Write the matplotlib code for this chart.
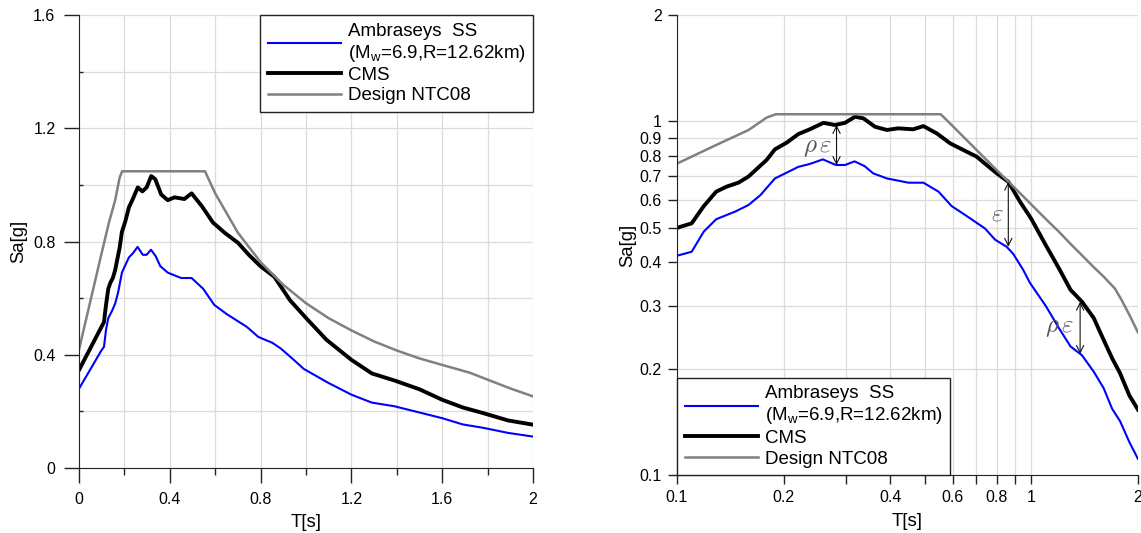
import matplotlib
matplotlib.use('Agg')
import matplotlib.pyplot as plt

plt.rcParams['font.family'] = ['Liberation Sans', 'DejaVu Sans']

# ---------------- data ----------------
T_cms = [0.0, 0.1, 0.110, 0.119, 0.129, 0.138, 0.149, 0.159, 0.179, 0.189, 0.204,
         0.220, 0.237, 0.259, 0.279, 0.298, 0.318, 0.336, 0.362, 0.391, 0.421,
         0.464, 0.496, 0.541, 0.590, 0.643, 0.701, 0.748, 0.799, 0.861, 0.929,
         1.0, 1.09, 1.2, 1.29, 1.39, 1.50, 1.60, 1.69, 1.78, 1.89, 2.0]
Sa_cms = [0.346, 0.500, 0.515, 0.576, 0.633, 0.654, 0.671, 0.698, 0.778, 0.834, 0.871,
          0.921, 0.950, 0.991, 0.977, 0.991, 1.031, 1.020, 0.966, 0.946, 0.956,
          0.950, 0.970, 0.925, 0.867, 0.830, 0.795, 0.753, 0.713, 0.675, 0.593,
          0.530, 0.453, 0.382, 0.334, 0.309, 0.278, 0.241, 0.214, 0.194, 0.168, 0.153]

T_amb = [0.0, 0.1, 0.110, 0.119, 0.129, 0.146, 0.159, 0.172, 0.189, 0.202, 0.220,
         0.237, 0.258, 0.281, 0.298, 0.317, 0.338, 0.358, 0.391, 0.450, 0.496,
         0.547, 0.596, 0.650, 0.740, 0.790, 0.852, 0.889, 0.949, 0.99, 1.10,
         1.2, 1.29, 1.39, 1.50, 1.60, 1.69, 1.78, 1.89, 2.0]
Sa_amb = [0.280, 0.417, 0.428, 0.488, 0.529, 0.556, 0.580, 0.619, 0.690, 0.713, 0.744,
          0.758, 0.781, 0.753, 0.753, 0.771, 0.748, 0.713, 0.690, 0.671, 0.671,
          0.633, 0.576, 0.544, 0.498, 0.463, 0.442, 0.422, 0.380, 0.350, 0.300,
          0.259, 0.231, 0.218, 0.196, 0.176, 0.154, 0.142, 0.124, 0.111]

T_ntc = [0.0, 0.1, 0.132, 0.159, 0.179, 0.19, 0.555, 0.6, 0.7, 0.8, 0.9, 1.0, 1.1,
         1.2, 1.3, 1.4, 1.5, 1.6, 1.72, 1.8, 1.9, 2.0]
Sa_ntc = [0.418, 0.760, 0.867, 0.945, 1.025, 1.048, 1.048, 0.970, 0.831, 0.727, 0.647,
          0.582, 0.529, 0.486, 0.447, 0.415, 0.387, 0.364, 0.337, 0.312, 0.281, 0.253]

labels = ['Ambraseys  SS\n(M$_\\mathregular{w}$=6.9,R=12.62km)', 'CMS', 'Design NTC08']

lin_xticks = [0, 0.4, 0.8, 1.2, 1.6, 2]
lin_xticklabels = ['0', '0.4', '0.8', '1.2', '1.6', '2']
lin_yticks = [0, 0.4, 0.8, 1.2, 1.6]
lin_yticklabels = ['0', '0.4', '0.8', '1.2', '1.6']

log_xticks = [0.1, 0.2, 0.3, 0.4, 0.5, 0.6, 0.7, 0.8, 0.9, 1, 2]
log_xticklabels = ['0.1', '0.2', '', '0.4', '', '0.6', '', '0.8', '', '1', '2']
log_yticks = [0.1, 0.2, 0.3, 0.4, 0.5, 0.6, 0.7, 0.8, 0.9, 1, 2]
log_yticklabels = ['0.1', '0.2', '0.3', '0.4', '0.5', '0.6', '0.7', '0.8', '0.9', '1', '2']

# annotations: (T, Sa_low, Sa_high, label_T, label_Sa, text)
arrows = [(0.282, 0.753, 0.977, 0.249, 0.845, r'$\rho\,\varepsilon$'),
          (0.861, 0.442, 0.675, 0.80, 0.55, r'$\varepsilon$'),
          (1.373, 0.220, 0.309, 1.205, 0.262, r'$\rho\,\varepsilon$')]

# ---------------- styling ----------------
C_BLUE, C_BLACK, C_GREY = '#0000ff', '#000000', '#808080'
LW = [1.5, 2.8, 1.8]
GRID = '#dcdcdc'
FS_TICK = 11.5
FS_LAB = 13.3
FS_LEG = 13.5

fig = plt.figure(figsize=(11.41, 5.33), dpi=100)
W, H = 1141, 533
ax1 = fig.add_axes([79 / W, (H - 468) / H, 454 / W, 453 / H])
ax2 = fig.add_axes([677 / W, (H - 475) / H, 461 / W, 460 / H])

for ax in (ax1, ax2):
    l1, = ax.plot(T_amb, Sa_amb, color=C_BLUE, lw=LW[0])
    l2, = ax.plot(T_cms, Sa_cms, color=C_BLACK, lw=LW[1])
    l3, = ax.plot(T_ntc, Sa_ntc, color=C_GREY, lw=LW[2])
    ax.spines['top'].set_visible(False)
    ax.spines['right'].set_visible(False)
    ax.spines['left'].set_color('#222222')
    ax.spines['bottom'].set_color('#222222')
    ax.set_axisbelow(True)
    ax.handles = [l1, l2, l3]

# left (linear)
ax1.set_xlim(0, 2)
ax1.set_ylim(0, 1.6)
ax1.set_xticks(lin_xticks)
ax1.set_xticklabels(lin_xticklabels)
ax1.set_yticks(lin_yticks)
ax1.set_yticklabels(lin_yticklabels)
ax1.set_xticks([0.2, 0.6, 1.0, 1.4, 1.8], minor=True)
ax1.set_yticks([0.2, 0.6, 1.0, 1.4], minor=True)
ax1.tick_params(which='major', direction='out', length=11, width=1, labelsize=FS_TICK,
                color='#222222', pad=6)
ax1.tick_params(axis='x', which='minor', direction='out', length=5, width=1, color='#222222')
ax1.tick_params(axis='y', which='minor', direction='in', length=3, width=1, color='#222222')
ax1.grid(True, which='both', color=GRID, lw=0.9)
ax1.set_xlabel('T[s]', fontsize=FS_LAB, labelpad=5)
ax1.set_ylabel('Sa[g]', fontsize=FS_LAB, labelpad=4)

# right (log-log)
ax2.set_xscale('log')
ax2.set_yscale('log')
ax2.set_xlim(0.1, 2)
ax2.set_ylim(0.1, 2)
ax2.set_xticks(log_xticks)
ax2.set_xticklabels(log_xticklabels)
ax2.set_yticks(log_yticks)
ax2.set_yticklabels(log_yticklabels)
ax2.xaxis.set_minor_locator(matplotlib.ticker.NullLocator())
ax2.yaxis.set_minor_locator(matplotlib.ticker.NullLocator())
ax2.tick_params(which='major', direction='out', length=6.5, width=1, labelsize=FS_TICK,
                color='#222222', pad=4.5)
ax2.grid(True, which='major', color=GRID, lw=0.9)
ax2.set_xlabel('T[s]', fontsize=FS_LAB, labelpad=5.5)
ax2.set_ylabel('Sa[g]', fontsize=FS_LAB, labelpad=2)

for (t, lo, hi, lt, ls, txt) in arrows:
    ax2.annotate('', xy=(t, lo), xytext=(t, hi),
                 arrowprops=dict(arrowstyle='<->', color='#111111', lw=0.8,
                                 shrinkA=0, shrinkB=0, mutation_scale=13))
    ax2.text(lt, ls, txt, math_fontfamily='cm', color='#555555', fontsize=18,
             ha='center', va='center')

leg_kw = dict(fontsize=FS_LEG, frameon=True, fancybox=False, shadow=False, framealpha=1,
              edgecolor='#222222', handlelength=3.9, handletextpad=0.37,
              borderaxespad=0, borderpad=0.4, labelspacing=0.18)
lg1 = ax1.legend(ax1.handles, labels, loc='upper right', **leg_kw)
lg2 = ax2.legend(ax2.handles, labels, loc='lower left', **leg_kw)
for lg in (lg1, lg2):
    lg.get_frame().set_linewidth(1.0)

fig.savefig('out.png', dpi=100)
